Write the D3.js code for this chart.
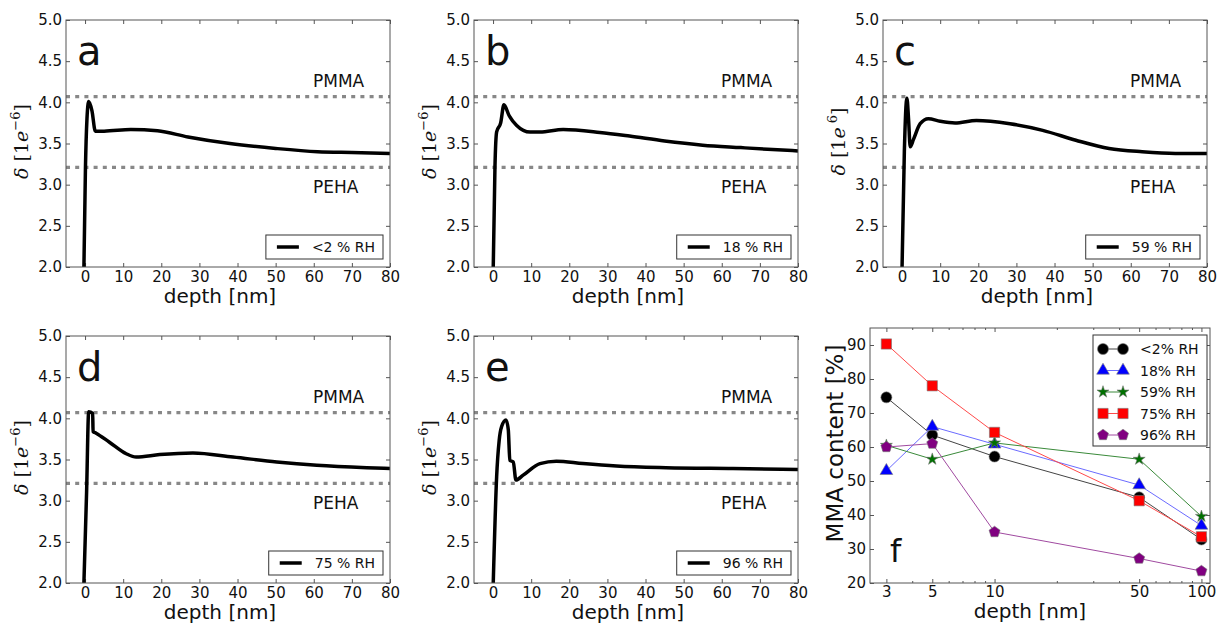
<!DOCTYPE html>
<html lang="en">
<head>
<meta charset="utf-8">
<script src="https://d3js.org/d3.v7.min.js"></script>
<style>
  body { margin: 0; background: #fff; }
  text { font-family: "DejaVu Sans", sans-serif; fill: #111; }
  .tick line { stroke: #555; }
</style>
</head>
<body>
<script>
// ---- panels a-e : delta profile vs depth ----
const depthA = [-0.3, 0.1, 0.5, 0.95, 1.8, 2.7, 5, 12, 19, 27, 38, 50, 61, 70, 80];
const deltaA = [2.0, 3.2, 3.8, 4.01, 3.9, 3.65, 3.65, 3.67, 3.655, 3.58, 3.50, 3.44, 3.40, 3.39, 3.38];

const depthB = [0.05, 0.5, 0.94, 2.0, 2.85, 4.2, 6.2, 9.7, 12.3, 18.4, 28, 35.8, 45, 55, 65, 72, 80];
const deltaB = [2.0, 3.22, 3.64, 3.75, 3.97, 3.84, 3.72, 3.64, 3.64, 3.67, 3.635, 3.59, 3.53, 3.48, 3.45, 3.43, 3.41];

const depthC = [0, 0.6, 1.27, 1.7, 2.14, 3.0, 4.75, 6.9, 10, 13.9, 19.5, 28.3, 36.9, 45.6, 54.3, 63, 71.7, 80];
const deltaC = [2.0, 3.4, 4.05, 3.8, 3.46, 3.55, 3.74, 3.80, 3.77, 3.75, 3.78, 3.74, 3.66, 3.54, 3.44, 3.40, 3.38, 3.38];

const depthD = [-0.3, 0.4, 0.95, 2.0, 2.1, 2.9, 6.4, 10.8, 13.4, 19.6, 28.3, 38.8, 50.3, 60.8, 73.9, 80];
const deltaD = [2.0, 3.1, 4.08, 4.06, 3.84, 3.82, 3.71, 3.57, 3.53, 3.56, 3.58, 3.53, 3.47, 3.43, 3.40, 3.39];

const depthE = [0.05, 0.94, 1.6, 2.25, 3.4, 4.0, 4.4, 5.3, 6.0, 7.9, 12.3, 16.6, 23.6, 32.4, 45.4, 62.9, 80];
const deltaE = [2.0, 3.29, 3.73, 3.90, 3.98, 3.86, 3.49, 3.47, 3.25, 3.31, 3.45, 3.48, 3.45, 3.42, 3.40, 3.39, 3.38];

const panelLetters = ["a", "b", "c", "d", "e"];
const rhLabels = ["<2 % RH", "18 % RH", "59 % RH", "75 % RH", "96 % RH"];
const pmmaLevel = 4.07;
const pehaLevel = 3.21;
const deltaTicks = [2.0, 2.5, 3.0, 3.5, 4.0, 4.5, 5.0];
const depthTicks = [0, 10, 20, 30, 40, 50, 60, 70, 80];

// ---- panel f : MMA content vs depth ----
const fDepths = [3, 5, 10, 50, 100];
const mmaRH2 = [74.6, 63.5, 57.2, 45.2, 32.8];
const mmaRH18 = [53, 66, 60.8, 48.8, 36.9];
const mmaRH59 = [60.5, 56.4, 61.2, 56.4, 39.6];
const mmaRH75 = [90.3, 78, 64.3, 44.2, 33.6];
const mmaRH96 = [60, 61, 35, 27.2, 23.5];
const fLabels = ["<2% RH", "18% RH", "59% RH", "75% RH", "96% RH"];
const fTicksX = [3, 5, 10, 50, 100];
const fTicksY = [20, 30, 40, 50, 60, 70, 80, 90];

const svg = d3.select("body").append("svg")
    .attr("width", 1220)
    .attr("height", 624);

const W = 324, H = 247;
const profiles = [
    { x0: 66, y0: 20, depth: depthA, delta: deltaA },
    { x0: 474, y0: 20, depth: depthB, delta: deltaB },
    { x0: 883, y0: 20, depth: depthC, delta: deltaC, noMinus: true },
    { x0: 66, y0: 336, depth: depthD, delta: deltaD },
    { x0: 474, y0: 336, depth: depthE, delta: deltaE }
];

profiles.forEach((p, i) => {
    const g = svg.append("g").attr("transform", `translate(${p.x0},${p.y0})`);
    const x = d3.scaleLinear().domain([-5, 80]).range([0, W]);
    const y = d3.scaleLinear().domain([2, 5]).range([H, 0]);

    g.append("clipPath").attr("id", "clip" + i)
        .append("rect").attr("width", W).attr("height", H);

    // axes with inward ticks on all four sides
    g.append("g").attr("transform", `translate(0,${H})`)
        .call(d3.axisBottom(x).tickValues(depthTicks).tickSizeInner(-4).tickSizeOuter(0).tickPadding(4));
    g.append("g").call(d3.axisTop(x).tickValues(depthTicks).tickSizeInner(-4).tickSizeOuter(0).tickFormat(""));
    g.append("g")
        .call(d3.axisLeft(y).tickValues(deltaTicks).tickFormat(d3.format(".1f")).tickSizeInner(-4).tickSizeOuter(0).tickPadding(4));
    g.append("g").attr("transform", `translate(${W},0)`)
        .call(d3.axisRight(y).tickValues(deltaTicks).tickSizeInner(-4).tickSizeOuter(0).tickFormat(""));
    g.selectAll(".domain").remove();
    g.selectAll(".tick text").style("font-size", "15px").style("font-family", "DejaVu Sans").attr("fill", "#111");

    // reference levels
    [pmmaLevel, pehaLevel].forEach(v => {
        g.append("line")
            .attr("x1", 0).attr("x2", W)
            .attr("y1", y(v)).attr("y2", y(v))
            .attr("stroke", "#888").attr("stroke-width", 3.2)
            .attr("stroke-dasharray", "4,5.2");
    });
    g.append("text").text("PMMA").attr("x", 247).attr("y", 67).style("font-size", "17px");
    g.append("text").text("PEHA").attr("x", 247).attr("y", 173).style("font-size", "17px");

    // profile
    const line = d3.line()
        .x((d, k) => x(p.depth[k]))
        .y(d => y(d))
        .curve(d3.curveMonotoneX);
    g.append("path")
        .datum(p.delta)
        .attr("clip-path", `url(#clip${i})`)
        .attr("d", line)
        .attr("fill", "none")
        .attr("stroke", "#000")
        .attr("stroke-width", 3.5)
        .attr("stroke-linejoin", "round");

    // frame
    g.append("rect").attr("width", W).attr("height", H)
        .attr("fill", "none").attr("stroke", "#555").attr("stroke-width", 1);

    // panel letter
    g.append("text").text(panelLetters[i]).attr("x", 11).attr("y", 45).style("font-size", "40px");

    // legend
    const lg = g.append("g");
    const lt = lg.append("text").text(rhLabels[i]).style("font-size", "14px");
    const tw = lt.node().getComputedTextLength();
    const bw = tw + 54, bx = W - 7 - bw, by = 215;
    lg.insert("rect", "text").attr("x", bx).attr("y", by).attr("width", bw).attr("height", 24)
        .attr("fill", "#fff").attr("stroke", "#333").attr("stroke-width", 1);
    lg.append("line").attr("x1", bx + 11).attr("x2", bx + 33).attr("y1", by + 12).attr("y2", by + 12)
        .attr("stroke", "#000").attr("stroke-width", 3.5);
    lt.attr("x", bx + 46).attr("y", by + 17);

    // axis titles
    g.append("text").text("depth [nm]").attr("x", W / 2 - 8).attr("y", H + 36)
        .attr("text-anchor", "middle").style("font-size", "20px");
    const yt = g.append("text").attr("transform", `translate(-38,${H / 2 - 2}) rotate(-90)`)
        .attr("text-anchor", "middle").style("font-family", "DejaVu Serif").style("font-size", "19px");
    yt.append("tspan").text("δ").style("font-style", "italic").style("font-family", "DejaVu Serif");
    yt.append("tspan").text("  [1").style("font-family", "DejaVu Serif");
    yt.append("tspan").text("e").style("font-style", "italic").style("font-family", "DejaVu Serif");
    yt.append("tspan").text(p.noMinus ? " 6" : "−6").attr("dy", -8).style("font-size", "13px").style("font-family", "DejaVu Serif");
    yt.append("tspan").text("]").attr("dy", 8).style("font-family", "DejaVu Serif");
});

// ---- panel f ----
const fX0 = 870, fY0 = 328, fW = 340, fH = 255;
const gf = svg.append("g").attr("transform", `translate(${fX0},${fY0})`);
const fx = d3.scaleLog().domain([2.5, 110]).range([0, fW]);
const fy = d3.scaleLinear().domain([20, 95]).range([fH, 0]);
const minorX = [4, 6, 7, 8, 9, 20, 30, 40, 60, 70, 80, 90];

gf.append("g").attr("transform", `translate(0,${fH})`)
    .call(d3.axisBottom(fx).tickValues(fTicksX).tickFormat(d3.format("d")).tickSizeInner(-4).tickSizeOuter(0).tickPadding(3));
gf.append("g").attr("transform", `translate(0,${fH})`)
    .call(d3.axisBottom(fx).tickValues(minorX).tickFormat("").tickSizeInner(-2).tickSizeOuter(0));
gf.append("g").call(d3.axisTop(fx).tickValues(fTicksX).tickFormat("").tickSizeInner(-4).tickSizeOuter(0));
gf.append("g").call(d3.axisTop(fx).tickValues(minorX).tickFormat("").tickSizeInner(-2).tickSizeOuter(0));
gf.append("g").call(d3.axisLeft(fy).tickValues(fTicksY).tickFormat(d3.format("d")).tickSizeInner(-4).tickSizeOuter(0).tickPadding(4));
gf.append("g").attr("transform", `translate(${fW},0)`)
    .call(d3.axisRight(fy).tickValues(fTicksY).tickFormat("").tickSizeInner(-4).tickSizeOuter(0));
gf.selectAll(".domain").remove();
gf.selectAll(".tick text").style("font-size", "15px").style("font-family", "DejaVu Sans").attr("fill", "#111");

// pentagon marker
const pentagon = {
    draw(ctx, size) {
        const r = Math.sqrt(size / 2.3776);
        for (let k = 0; k < 5; k++) {
            const a = -Math.PI / 2 + k * 2 * Math.PI / 5;
            if (k === 0) ctx.moveTo(r * Math.cos(a), r * Math.sin(a));
            else ctx.lineTo(r * Math.cos(a), r * Math.sin(a));
        }
        ctx.closePath();
    }
};

const fSeries = [
    { vals: mmaRH2, color: "#000000", line: "#444", sym: d3.symbolCircle, size: 95 },
    { vals: mmaRH18, color: "#0000ff", line: "#6b6bff", sym: d3.symbolTriangle, size: 70 },
    { vals: mmaRH59, color: "#007000", line: "#3a8a3a", sym: d3.symbolStar, size: 45 },
    { vals: mmaRH75, color: "#ff0000", line: "#ff4a4a", sym: d3.symbolSquare, size: 105 },
    { vals: mmaRH96, color: "#800080", line: "#a04aa0", sym: pentagon, size: 80 }
];

const fLine = d3.line().x((d, k) => fx(fDepths[k])).y(d => fy(d));
fSeries.forEach(s => {
    gf.append("path").datum(s.vals).attr("d", fLine)
        .attr("fill", "none").attr("stroke", s.line).attr("stroke-width", 1);
    gf.selectAll(null).data(s.vals).enter().append("path")
        .attr("transform", (d, k) => `translate(${fx(fDepths[k])},${fy(d)})`)
        .attr("d", d3.symbol().type(s.sym).size(s.size))
        .attr("fill", s.color).attr("stroke", "#777").attr("stroke-width", 0.6);
});

gf.append("rect").attr("width", fW).attr("height", fH)
    .attr("fill", "none").attr("stroke", "#555").attr("stroke-width", 1);

// legend f
const flg = gf.append("g").attr("transform", "translate(223,7)");
flg.append("rect").attr("width", 114).attr("height", 111)
    .attr("fill", "#fff").attr("stroke", "#333").attr("stroke-width", 1);
fSeries.forEach((s, k) => {
    const ry = 14 + k * 21.5;
    flg.append("line").attr("x1", 10).attr("x2", 30).attr("y1", ry).attr("y2", ry)
        .attr("stroke", s.line).attr("stroke-width", 1);
    [10, 30].forEach(mx => {
        flg.append("path").attr("transform", `translate(${mx},${ry})`)
            .attr("d", d3.symbol().type(s.sym).size(s.size))
            .attr("fill", s.color).attr("stroke", "#777").attr("stroke-width", 0.6);
    });
    flg.append("text").text(fLabels[k]).attr("x", 47).attr("y", ry + 5).style("font-size", "14px");
});

gf.append("text").text("f").attr("x", 20).attr("y", 234).style("font-size", "32px");
gf.append("text").text("depth [nm]").attr("x", fW / 2 - 10).attr("y", fH + 35)
    .attr("text-anchor", "middle").style("font-size", "20px");
gf.append("text").text("MMA content [%]")
    .attr("transform", `translate(-27,${fH / 2 - 12}) rotate(-90)`)
    .attr("text-anchor", "middle").style("font-size", "23px");
</script>
</body>
</html>
